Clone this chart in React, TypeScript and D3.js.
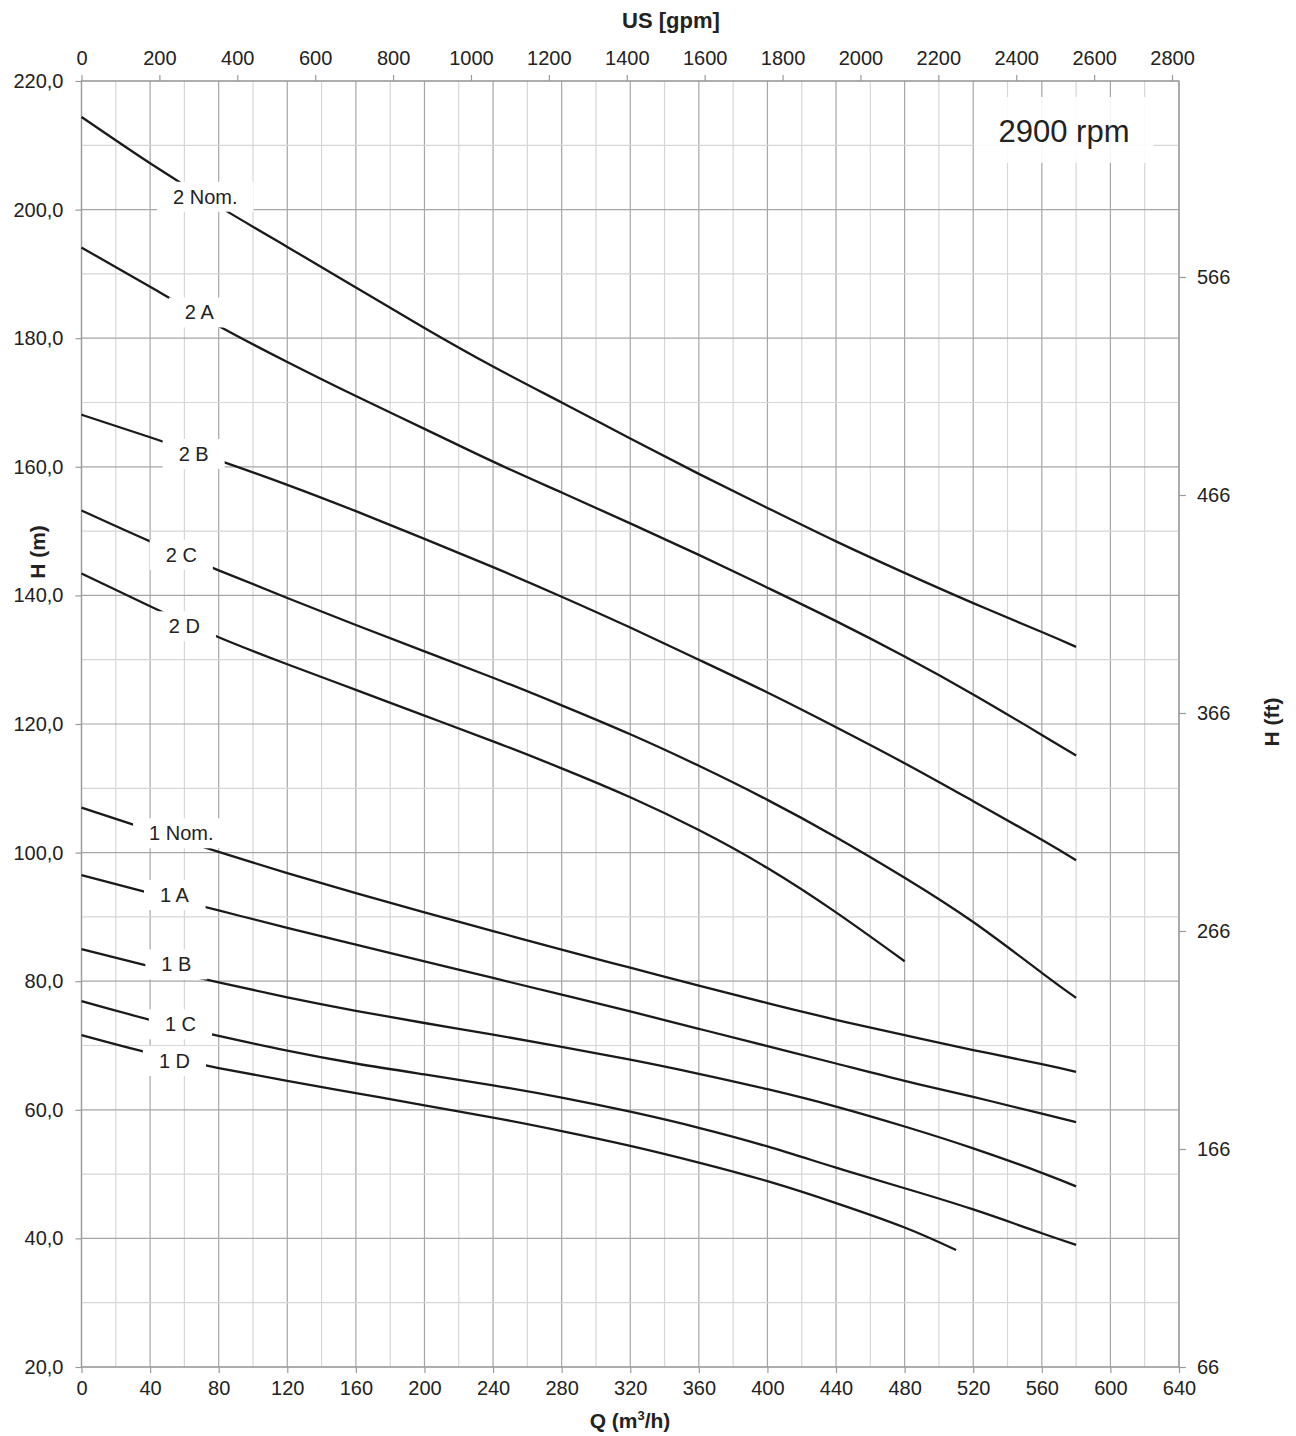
import React, { useEffect, useRef } from "react";
import * as d3 from "d3";

// ---- data ----
const qStd = [0, 40, 80, 120, 160, 200, 240, 280, 320, 360, 400, 440, 480, 520, 560, 580];
const q2D = [0, 40, 80, 120, 160, 200, 240, 280, 320, 360, 400, 440, 480];
const q1D = [0, 40, 80, 120, 160, 200, 240, 280, 320, 360, 400, 440, 480, 510];

const h2Nom = [214.4, 207.2, 200.5, 194.2, 187.9, 181.6, 175.6, 170.0, 164.4, 158.9, 153.6, 148.4, 143.5, 138.8, 134.3, 132.0];
const h2A = [194.1, 188.0, 181.9, 176.3, 171.0, 165.9, 160.8, 156.0, 151.2, 146.3, 141.2, 136.0, 130.5, 124.6, 118.3, 115.1];
const h2B = [168.1, 164.6, 161.0, 157.2, 153.1, 148.8, 144.4, 139.8, 135.0, 130.0, 124.9, 119.5, 113.9, 108.0, 102.0, 98.8];
const h2C = [153.2, 148.4, 143.9, 139.6, 135.4, 131.3, 127.2, 122.9, 118.4, 113.5, 108.2, 102.4, 96.1, 89.2, 81.3, 77.4];
const h2D = [143.4, 138.3, 133.5, 129.3, 125.3, 121.3, 117.3, 113.1, 108.6, 103.5, 97.6, 90.7, 83.1];
const h1Nom = [107.0, 103.5, 100.1, 96.8, 93.7, 90.7, 87.8, 84.9, 82.1, 79.3, 76.6, 74.0, 71.6, 69.3, 67.1, 65.9];
const h1A = [96.5, 93.7, 91.0, 88.3, 85.7, 83.1, 80.5, 77.9, 75.3, 72.6, 69.9, 67.2, 64.5, 62.0, 59.4, 58.1];
const h1B = [85.0, 82.3, 79.8, 77.5, 75.4, 73.5, 71.7, 69.8, 67.8, 65.6, 63.2, 60.5, 57.4, 54.0, 50.2, 48.1];
const h1C = [76.9, 74.0, 71.5, 69.2, 67.2, 65.5, 63.8, 61.9, 59.7, 57.2, 54.3, 51.0, 47.8, 44.5, 40.8, 39.0];
const h1D = [71.6, 68.8, 66.5, 64.5, 62.6, 60.7, 58.8, 56.7, 54.4, 51.8, 48.9, 45.5, 41.7, 38.2];

const labelNames = ["2 Nom.", "2 A", "2 B", "2 C", "2 D", "1 Nom.", "1 A", "1 B", "1 C", "1 D"];
const labelQ = [72.2, 68.7, 65.4, 58.2, 60.0, 58.2, 54.2, 55.3, 57.7, 54.2];
const labelH = [202.0, 184.0, 162.0, 146.3, 135.2, 103.0, 93.4, 82.6, 73.3, 67.6];

const qTicks = [0, 40, 80, 120, 160, 200, 240, 280, 320, 360, 400, 440, 480, 520, 560, 600, 640];
const hTicks = [20, 40, 60, 80, 100, 120, 140, 160, 180, 200, 220];
const gpmTicks = [0, 200, 400, 600, 800, 1000, 1200, 1400, 1600, 1800, 2000, 2200, 2400, 2600, 2800];
const ftTicks = [66, 166, 266, 366, 466, 566];

const speedLabel = "2900 rpm";
const GPM_TO_M3H = 0.22712;

const FONT = "Arial, 'Liberation Sans', Helvetica, sans-serif";

export default function App() {
  const ref = useRef<SVGSVGElement | null>(null);

  useEffect(() => {
    const svg = d3.select(ref.current);
    svg.selectAll("*").remove();

    const L = 81.5, R = 1179, T = 81, B = 1367;
    const x = d3.scaleLinear().domain([0, 640]).range([L, R]);
    const y = d3.scaleLinear().domain([20, 220]).range([B, T]);
    const xg = d3.scaleLinear().domain([0, 640 / GPM_TO_M3H]).range([L, R]);
    const yf = d3.scaleLinear().domain([66, 655.9]).range([B, T]);

    const g = svg.append("g").attr("font-family", FONT);

    // grid
    const xMinor = d3.range(0, 641, 20);
    const yMinor = d3.range(20, 221, 10);
    g.append("g").selectAll("line").data(xMinor).join("line")
      .attr("x1", (d) => x(d)).attr("x2", (d) => x(d)).attr("y1", T).attr("y2", B)
      .attr("stroke", (d) => (d % 40 === 0 ? "#a6a6a6" : "#d6d6d6")).attr("stroke-width", 1.2);
    g.append("g").selectAll("line").data(yMinor).join("line")
      .attr("x1", L).attr("x2", R).attr("y1", (d) => y(d)).attr("y2", (d) => y(d))
      .attr("stroke", (d) => (d % 20 === 0 ? "#a6a6a6" : "#d6d6d6")).attr("stroke-width", 1.2);

    // frame
    g.append("rect").attr("x", L).attr("y", T).attr("width", R - L).attr("height", B - T)
      .attr("fill", "none").attr("stroke", "#9a9a9a").attr("stroke-width", 1.3);

    // axes
    const axisStyle = (sel: any) => {
      sel.select(".domain").remove();
      sel.selectAll(".tick line").attr("stroke", "#9a9a9a").attr("stroke-width", 1.2);
      sel.selectAll(".tick text").attr("fill", "#222").attr("font-size", 20).attr("font-family", FONT);
    };
    g.append("g").attr("transform", `translate(0,${B})`)
      .call(d3.axisBottom(x).tickValues(qTicks).tickFormat(d3.format("d")).tickSize(6).tickPadding(8))
      .call(axisStyle);
    g.append("g").attr("transform", `translate(0,${T})`)
      .call(d3.axisTop(xg).tickValues(gpmTicks).tickFormat(d3.format("d")).tickSize(6).tickPadding(10))
      .call(axisStyle);
    g.append("g").attr("transform", `translate(${L},0)`)
      .call(d3.axisLeft(y).tickValues(hTicks).tickFormat((d: any) => d3.format(".1f")(d).replace(".", ",")).tickSize(6).tickPadding(12))
      .call(axisStyle);
    g.append("g").attr("transform", `translate(${R},0)`)
      .call(d3.axisRight(yf).tickValues(ftTicks).tickFormat(d3.format("d")).tickSize(7).tickPadding(11))
      .call(axisStyle);

    // curves
    const series: [number[], number[]][] = [
      [qStd, h2Nom], [qStd, h2A], [qStd, h2B], [qStd, h2C], [q2D, h2D],
      [qStd, h1Nom], [qStd, h1A], [qStd, h1B], [qStd, h1C], [q1D, h1D],
    ];
    const line = d3.line<[number, number]>().x((d) => x(d[0])).y((d) => y(d[1])).curve(d3.curveNatural);
    g.append("g").selectAll("path").data(series).join("path")
      .attr("d", (s) => line(s[0].map((q, i) => [q, s[1][i]] as [number, number])))
      .attr("fill", "none").attr("stroke", "#1a1a1a").attr("stroke-width", 2.3);

    // curve labels
    const lg = g.append("g");
    labelNames.forEach((name, i) => {
      const cx = x(labelQ[i]);
      const cy = y(labelH[i]);
      const rect = lg.append("rect").attr("fill", "#fff");
      const t = lg.append("text").attr("x", cx).attr("y", cy).attr("dy", "0.35em")
        .attr("text-anchor", "middle").attr("font-size", 20).attr("fill", "#222").text(name);
      const bb = (t.node() as SVGTextElement).getBBox();
      const padX = 16, h = 30;
      rect.attr("x", bb.x - padX).attr("y", cy - h / 2).attr("width", bb.width + 2 * padX).attr("height", h);
    });

    // speed label
    const sx = 1064, sy = 131;
    g.append("rect").attr("x", 974).attr("y", 97).attr("width", 180).attr("height", 66)
      .attr("fill", "#fff").attr("fill-opacity", 0.88);
    g.append("text").attr("x", sx).attr("y", sy).attr("dy", "0.35em").attr("text-anchor", "middle")
      .attr("font-size", 31).attr("fill", "#222").text(speedLabel);

    // axis titles
    g.append("text").attr("x", 671).attr("y", 28).attr("text-anchor", "middle")
      .attr("font-size", 22).attr("font-weight", "bold").attr("fill", "#222").text("US [gpm]");
    const qt = g.append("text").attr("x", 630).attr("y", 1428).attr("text-anchor", "middle")
      .attr("font-size", 21).attr("font-weight", "bold").attr("fill", "#222");
    qt.append("tspan").text("Q (m");
    qt.append("tspan").attr("font-size", 13).attr("dy", -8).text("3");
    qt.append("tspan").attr("dy", 8).text("/h)");
    g.append("text").attr("transform", `translate(45,552) rotate(-90)`).attr("text-anchor", "middle")
      .attr("font-size", 21).attr("font-weight", "bold").attr("fill", "#222").text("H (m)");
    g.append("text").attr("transform", `translate(1279,722) rotate(-90)`).attr("text-anchor", "middle")
      .attr("font-size", 21).attr("font-weight", "bold").attr("fill", "#222").text("H (ft)");
  }, []);

  return (
    <svg
      ref={ref}
      width={1296}
      height={1436}
      style={{ position: "absolute", left: 0, top: 0, background: "#fff" }}
    />
  );
}
